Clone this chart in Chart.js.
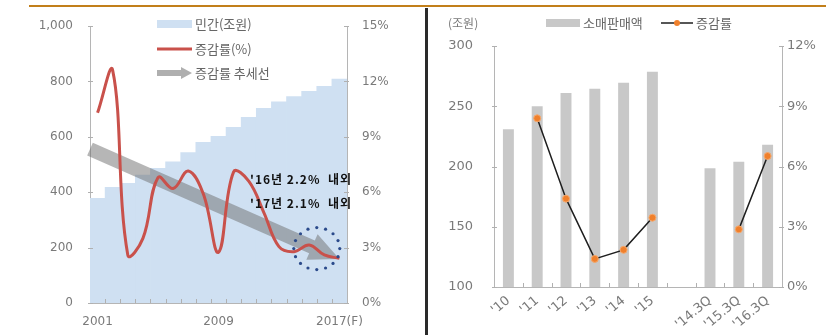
<!DOCTYPE html>
<html>
<head>
<meta charset="utf-8">
<script src="https://cdn.jsdelivr.net/npm/chart.js@4.4.1/dist/chart.umd.min.js"></script>
<style>
html, body { margin: 0; padding: 0; background: #fff; }
#wrap { position: relative; width: 826px; height: 335px; overflow: hidden; }
#topline { position: absolute; left: 29px; top: 5px; width: 797px; height: 2px; background: #c27f1a; }
#sep { position: absolute; left: 425px; top: 8px; width: 3px; height: 327px; background: #2a2a2a; }
#boxL { position: absolute; left: 0; top: 0; }
#boxR { position: absolute; left: 428px; top: 0; }
</style>
</head>
<body>
<div id="wrap">
  <div id="topline"></div>
  <div id="sep"></div>
  <canvas id="boxL" width="420" height="335"></canvas>
  <canvas id="boxR" width="398" height="335"></canvas>
</div>
<script>
// left chart: private consumption (trillion won) and growth rate
var years = ['2001', '2002', '2003', '2004', '2005', '2006', '2007', '2008', '2009',
             '2010', '2011', '2012', '2013', '2014', '2015', '2016', '2017(F)'];
var shownYears = ['2001', '2009', '2017(F)'];
var privateSpend = [378, 418, 432, 462, 486, 510, 543, 580, 602, 634, 670, 703, 726, 745, 764, 782, 808];
var growthRate = [10.3, 12.6, 2.6, 3.5, 6.8, 6.2, 7.15, 5.9, 2.75, 7.1, 6.6, 4.9, 3.05, 2.78, 3.14, 2.6, 2.42];
var trendRate = [8.15, null, null, null, null, null, null, null, null, null, null, null, null, null, null, null, 2.38];
var leftNotes = ["'16년 2.2%  내외", "'17년 2.1%  내외"];

// right chart: retail sales (trillion won) and growth rate
var retailCats = ["'10", "'11", "'12", "'13", "'14", "'15", "", "'14.3Q", "'15.3Q", "'16.3Q"];
var retailSales = [231, 250, 261, 264.5, 269.5, 278.6, null, 198.6, 204, 218];
var retailGrowth = [null, 8.4, 4.4, 1.4, 1.85, 3.45, null, null, 2.87, 6.52];

var NUM_FONT = 'DejaVu Sans';
var KR_FONT = '"Noto Sans CJK KR", "Noto Sans", sans-serif';
var TXT = '#7a7a7a';

// small tick marks pointing into the plot
var innerTicks = {
    id: 'innerTicks',
    afterDraw: function (chart) {
        var ctx = chart.ctx, a = chart.chartArea;
        ctx.save();
        ctx.strokeStyle = '#b0b0b0';
        ctx.lineWidth = 1;
        var n = chart.data.labels.length;
        var step = (a.right - a.left) / n;
        ctx.beginPath();
        for (var k = 1; k < n; k++) {
            var x = Math.round(a.left + k * step) + 0.5;
            ctx.moveTo(x, a.bottom);
            ctx.lineTo(x, a.bottom - 4);
        }
        ['y', 'y1'].forEach(function (id) {
            var s = chart.scales[id];
            s.ticks.forEach(function (t) {
                var y = Math.round(s.getPixelForValue(t.value)) + 0.5;
                if (id === 'y') { ctx.moveTo(a.left - 2, y); ctx.lineTo(a.left + 3, y); }
                else { ctx.moveTo(a.right + 2, y); ctx.lineTo(a.right - 3, y); }
            });
        });
        ctx.stroke();
        ctx.restore();
    }
};

// trend arrow drawn from the trend dataset points
var trendArrow = {
    id: 'trendArrow',
    afterDatasetDraw: function (chart, args) {
        if (args.index !== 1) return;
        var pts = args.meta.data;
        var p0 = pts[0], p1 = pts[pts.length - 1];
        var dx = p1.x - p0.x, dy = p1.y - p0.y, len = Math.sqrt(dx * dx + dy * dy);
        var ux = dx / len, uy = dy / len, px = -uy, py = ux;
        var back = (p0.x - chart.chartArea.left) / ux;
        var sx = p0.x - ux * back, sy = p0.y - uy * back;
        var head = 30, hw = 7, hh = 14;
        var bx = p1.x - ux * head, by = p1.y - uy * head;
        var ctx = chart.ctx;
        ctx.save();
        ctx.fillStyle = 'rgba(110,110,110,0.5)';
        ctx.beginPath();
        ctx.moveTo(sx + px * hw, sy + py * hw);
        ctx.lineTo(bx + px * hw, by + py * hw);
        ctx.lineTo(bx + px * hh, by + py * hh);
        ctx.lineTo(p1.x, p1.y);
        ctx.lineTo(bx - px * hh, by - py * hh);
        ctx.lineTo(bx - px * hw, by - py * hw);
        ctx.lineTo(sx - px * hw, sy - py * hw);
        ctx.closePath();
        ctx.fill();
        ctx.restore();
    }
};

var leftDecor = {
    id: 'leftDecor',
    afterDraw: function (chart) {
        var ctx = chart.ctx;
        var xs = chart.scales.x, y1 = chart.scales.y1;
        ctx.save();
        // dotted circle around the last years
        var cx = (xs.getPixelForValue(14) + xs.getPixelForValue(15)) / 2;
        var cy = y1.getPixelForValue(3) + 1;
        ctx.fillStyle = '#2b4a8b';
        for (var i = 0; i < 16; i++) {
            var t = i / 16 * Math.PI * 2;
            ctx.beginPath();
            ctx.arc(cx + Math.cos(t) * 23, cy + Math.sin(t) * 21, 1.6, 0, Math.PI * 2);
            ctx.fill();
        }
        // notes
        ctx.fillStyle = '#111';
        ctx.font = 'bold 12px ' + KR_FONT;
        ctx.letterSpacing = '1px';
        ctx.textAlign = 'right';
        ctx.textBaseline = 'middle';
        ctx.fillText(leftNotes[0], 352, 179);
        ctx.fillText(leftNotes[1], 352, 203);
        ctx.letterSpacing = '0px';
        // legend
        ctx.fillStyle = '#cfe0f2';
        ctx.fillRect(157, 20, 35, 8);
        ctx.strokeStyle = '#c9514b';
        ctx.lineWidth = 3;
        ctx.beginPath(); ctx.moveTo(157, 49); ctx.lineTo(192, 49); ctx.stroke();
        ctx.fillStyle = 'rgba(110,110,110,0.55)';
        ctx.beginPath();
        ctx.moveTo(157, 70); ctx.lineTo(181, 70); ctx.lineTo(181, 67); ctx.lineTo(192, 73);
        ctx.lineTo(181, 79); ctx.lineTo(181, 76); ctx.lineTo(157, 76); ctx.closePath(); ctx.fill();
        ctx.fillStyle = '#666';
        ctx.font = '13px ' + KR_FONT;
        ctx.textAlign = 'left';
        ctx.fillText(chart.data.datasets[0].label, 195, 24);
        ctx.fillText(chart.data.datasets[2].label, 195, 49);
        ctx.fillText(chart.data.datasets[1].label, 195, 73);
        ctx.restore();
    }
};

var rightDecor = {
    id: 'rightDecor',
    afterDraw: function (chart) {
        var ctx = chart.ctx;
        ctx.save();
        ctx.textBaseline = 'middle';
        ctx.textAlign = 'left';
        ctx.fillStyle = TXT;
        ctx.font = '12px ' + KR_FONT;
        ctx.fillText('(조원)', 20, 23);
        ctx.fillStyle = '#c8c8c8';
        ctx.fillRect(118, 19, 34, 8);
        ctx.strokeStyle = '#1e1e1e';
        ctx.lineWidth = 1.5;
        ctx.beginPath(); ctx.moveTo(233, 23); ctx.lineTo(265, 23); ctx.stroke();
        ctx.fillStyle = '#f0802c';
        ctx.beginPath(); ctx.arc(249, 23, 3, 0, Math.PI * 2); ctx.fill();
        ctx.fillStyle = '#666';
        ctx.font = '13px ' + KR_FONT;
        ctx.fillText(chart.data.datasets[0].label, 155, 23);
        ctx.fillText(chart.data.datasets[1].label, 268, 23);
        ctx.restore();
    }
};

function axisFont(size) { return { family: NUM_FONT, size: size }; }

new Chart(document.getElementById('boxL'), {
    type: 'bar',
    data: {
        labels: years,
        datasets: [
            { type: 'bar', label: '민간(조원)', data: privateSpend, backgroundColor: '#cfe0f2',
              barPercentage: 1, categoryPercentage: 1, yAxisID: 'y', order: 3 },
            { type: 'line', label: '증감률 추세선', data: trendRate, yAxisID: 'y1', showLine: false,
              pointRadius: 0, spanGaps: true, order: 2 },
            { type: 'line', label: '증감률(%)', data: growthRate, yAxisID: 'y1', borderColor: '#c9514b',
              borderWidth: 3, pointRadius: 0, tension: 0.4, order: 1 }
        ]
    },
    options: {
        responsive: false, animation: false, devicePixelRatio: 1,
        layout: { padding: { top: 26, left: 0, right: 0, bottom: 0 } },
        plugins: { legend: { display: false }, tooltip: { enabled: false } },
        scales: {
            x: {
                grid: { display: false, drawTicks: false }, border: { color: '#b5b5b5' },
                ticks: { autoSkip: false, maxRotation: 0, padding: 12, color: TXT, font: axisFont(12),
                    callback: function (v, i) { return shownYears.indexOf(years[i]) >= 0 ? years[i] : ''; } },
                afterFit: function (s) { s.height = 32; }
            },
            y: {
                position: 'left', min: 0, max: 1000,
                grid: { display: false, drawTicks: false }, border: { color: '#b5b5b5' },
                ticks: { stepSize: 200, padding: 17, color: TXT, font: axisFont(12),
                    callback: function (v) { return v.toLocaleString('en-US'); } },
                afterFit: function (s) { s.width = 90; }
            },
            y1: {
                position: 'right', min: 0, max: 15,
                grid: { display: false, drawTicks: false }, border: { color: '#b5b5b5' },
                ticks: { stepSize: 3, padding: 15, color: TXT, font: axisFont(12),
                    callback: function (v) { return v + '%'; } },
                afterFit: function (s) { s.width = 73; }
            }
        }
    },
    plugins: [trendArrow, innerTicks, leftDecor]
});

new Chart(document.getElementById('boxR'), {
    type: 'bar',
    data: {
        labels: retailCats,
        datasets: [
            { type: 'bar', label: '소매판매액', data: retailSales, backgroundColor: '#c8c8c8',
              barPercentage: 0.38, categoryPercentage: 1, yAxisID: 'y', order: 2 },
            { type: 'line', label: '증감률', data: retailGrowth, yAxisID: 'y1', borderColor: '#1e1e1e',
              borderWidth: 1.5, pointRadius: 3.5, pointBackgroundColor: '#f0802c', pointBorderColor: '#f6a86c',
              pointBorderWidth: 1, tension: 0, spanGaps: false, order: 1 }
        ]
    },
    options: {
        responsive: false, animation: false, devicePixelRatio: 1,
        layout: { padding: { top: 46, left: 0, right: 0, bottom: 0 } },
        plugins: { legend: { display: false }, tooltip: { enabled: false } },
        scales: {
            x: {
                grid: { display: false, drawTicks: false }, border: { color: '#b5b5b5' },
                ticks: { autoSkip: false, minRotation: 40, maxRotation: 40, padding: 6, color: TXT, font: axisFont(13) },
                afterFit: function (s) { s.height = 48; }
            },
            y: {
                position: 'left', min: 100, max: 300,
                grid: { display: false, drawTicks: false }, border: { color: '#b5b5b5' },
                ticks: { stepSize: 50, padding: 21, color: TXT, font: axisFont(13) },
                afterFit: function (s) { s.width = 66; }
            },
            y1: {
                position: 'right', min: 0, max: 12,
                grid: { display: false, drawTicks: false }, border: { color: '#b5b5b5' },
                ticks: { stepSize: 3, padding: 5, color: TXT, font: axisFont(13),
                    callback: function (v) { return v + '%'; } },
                afterFit: function (s) { s.width = 44; }
            }
        }
    },
    plugins: [innerTicks, rightDecor]
});
</script>
</body>
</html>
